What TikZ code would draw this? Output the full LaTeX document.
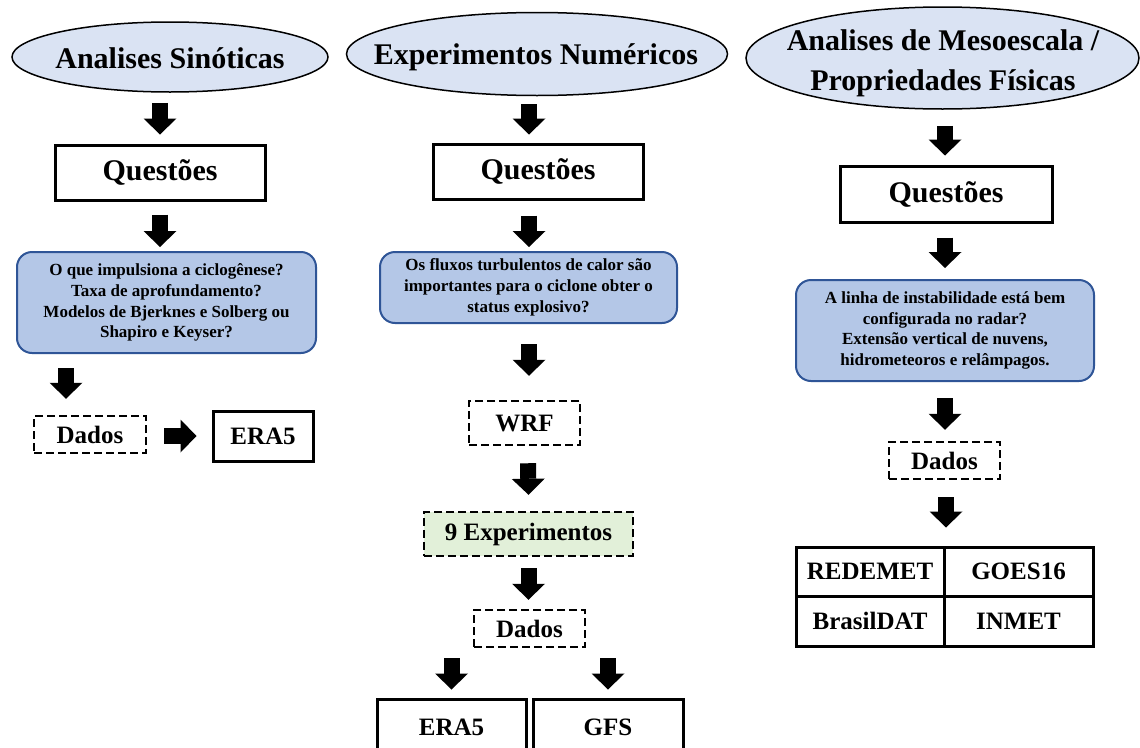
\documentclass[tikz,border=0pt]{standalone}
\usepackage{fontspec}
\setmainfont{Liberation Serif}
\usetikzlibrary{shapes.geometric,arrows.meta,calc}
\definecolor{ellfill}{HTML}{DAE3F3}
\definecolor{qfill}{HTML}{B4C7E7}
\definecolor{qdraw}{HTML}{2F5597}
\definecolor{gfill}{HTML}{E2F0D9}
\begin{document}
\begin{tikzpicture}[x=1pt,y=-1pt,
  ell/.style={ellipse, draw=black, line width=1.5pt, fill=ellfill, inner sep=0pt},
  title/.style={font=\fontsize{30pt}{40pt}\selectfont\bfseries, align=center, inner sep=0pt},
  qbox/.style={draw=black, line width=3pt, minimum width=210pt, minimum height=55pt, inner sep=0pt, font=\fontsize{30pt}{36pt}\selectfont\bfseries},
  rbox/.style={draw=qdraw, line width=2pt, fill=qfill, rounded corners=15pt, inner sep=0pt, align=center, font=\fontsize{17pt}{20.7pt}\selectfont\bfseries},
  dbox/.style={draw=black, line width=2.5pt, dash pattern=on 8pt off 4pt, inner sep=0pt, font=\fontsize{25pt}{30pt}\selectfont\bfseries},
  sbox/.style={draw=black, line width=3pt, inner sep=0pt, font=\fontsize{25pt}{30pt}\selectfont\bfseries},
  cell/.style={draw=black, line width=3pt, inner sep=0pt, font=\fontsize{25pt}{30pt}\selectfont\bfseries},
  blk/.style={line width=16pt, -{Triangle[width=33pt,length=16pt,line width=0pt]}},
]
\path[use as bounding box, clip] (0,0) rectangle (1140,747);
\fill[white] (0,0) rectangle (1140,747);

% column 1
\node[ell, minimum width=316pt, minimum height=70pt] (e1) at (170,57) {};
\node[title] (t1) at (170,58) {Analises Sinóticas};
\node[qbox] (q1) at (160,172.5) {Questões};
\node[rbox, minimum width=299pt, minimum height=101pt] (r1) at (166.5,302.5)
  {O que impulsiona a ciclogênese?\\Taxa de aprofundamento?\\Modelos de Bjerknes e Solberg ou\\Shapiro e Keyser?};
\node[dbox, minimum width=112pt, minimum height=37pt] (d1) at (90,434.5) {Dados};
\node[sbox, minimum width=100pt, minimum height=50pt] (era1) at (263,436) {ERA5};

\draw[blk] ($(e1.south -| q1.north)+(0,10)$) -- ($(q1.north)+(0,-9)$);
\draw[blk] ($(q1.south)+(0,13)$) -- ($(r1.north -| q1.south)+(0,-4)$);
\draw[blk] ($(r1.south -| d1.north)+(-24,14)$) -- ($(d1.north)+(-24,-16)$);
\draw[blk] ($(d1.east)+(17,1.5)$) -- ($(era1.west)+(-15,0)$);

% column 2
\node[ell, minimum width=381pt, minimum height=83pt] (e2) at (537,54) {};
\node[title] (t2) at (536,57) {Experimentos Numéricos};
\node[qbox] (q2) at (538,171.5) {Questões};
\node[rbox, minimum width=297pt, minimum height=71pt] (r2) at (528.5,287.5)
  {Os fluxos turbulentos de calor são\\importantes para o ciclone obter o\\status explosivo?};
\node[dbox, minimum width=111pt, minimum height=44pt] (wrf) at (524.5,423) {WRF};
\node[dbox, fill=gfill, minimum width=209pt, minimum height=44pt] (exp) at (528.5,534) {9 Experimentos};
\node[dbox, minimum width=111pt, minimum height=37pt] (d2) at (529.5,628.5) {Dados};
\node[sbox, minimum width=149pt, minimum height=56pt] (era2) at (451.5,727) {ERA5};
\node[sbox, minimum width=150pt, minimum height=56pt] (gfs) at (608,727) {GFS};

\draw[blk] ($(e2.south)+(-8,8)$) -- ($(q2.north)+(-9,-8)$);
\draw[blk] ($(q2.south)+(-9,15)$) -- ($(r2.north)+(0.5,-4)$);
\draw[blk] ($(r2.south)+(0.5,20)$) -- ($(wrf.north)+(4.5,-24)$);
\draw[blk] ($(wrf.south)+(3.5,17)$) -- ($(exp.north)+(0,-16)$);
\draw[blk] ($(exp.south)+(0,11)$) -- ($(d2.north)+(-1,-9)$);
\draw[blk] ($(d2.south -| era2.north)+(0,10)$) -- ($(era2.north)+(0,-8)$);
\draw[blk] ($(d2.south -| gfs.north)+(0,10)$) -- ($(gfs.north)+(0,-8)$);

% column 3
\node[ell, minimum width=393pt, minimum height=102pt] (e3) at (942.5,58) {};
\node[title] (t3) at (943,63) {Analises de Mesoescala /\\Propriedades Físicas};
\node[qbox, minimum width=212pt, minimum height=56pt] (q3) at (946,194) {Questões};
\node[rbox, minimum width=298pt, minimum height=101pt] (r3) at (945,330.5)
  {A linha de instabilidade está bem\\configurada no radar?\\Extensão vertical de nuvens,\\hidrometeoros e relâmpagos.};
\node[dbox, minimum width=111pt, minimum height=37pt] (d3) at (944.5,460.5) {Dados};
\node[cell, minimum width=148pt, minimum height=49pt] (c11) at (870,571.5) {REDEMET};
\node[cell, minimum width=149pt, minimum height=49pt] (c12) at (1018.5,571.5) {GOES16};
\node[cell, minimum width=148pt, minimum height=50pt] (c21) at (870,621) {BrasilDAT};
\node[cell, minimum width=149pt, minimum height=50pt] (c22) at (1018.5,621) {INMET};

\draw[blk] ($(e3.south -| q3.north)+(-1,16)$) -- ($(q3.north)+(-1,-9)$);
\draw[blk] ($(q3.south)+(-1,14)$) -- ($(r3.north)+(0,-11)$);
\draw[blk] ($(r3.south)+(0,16)$) -- ($(d3.north)+(0.5,-11)$);
\draw[blk] ($(d3.south)+(1.5,17)$) -- ($(c11.north -| d3.south)+(1.5,-18)$);
\end{tikzpicture}
\end{document}
